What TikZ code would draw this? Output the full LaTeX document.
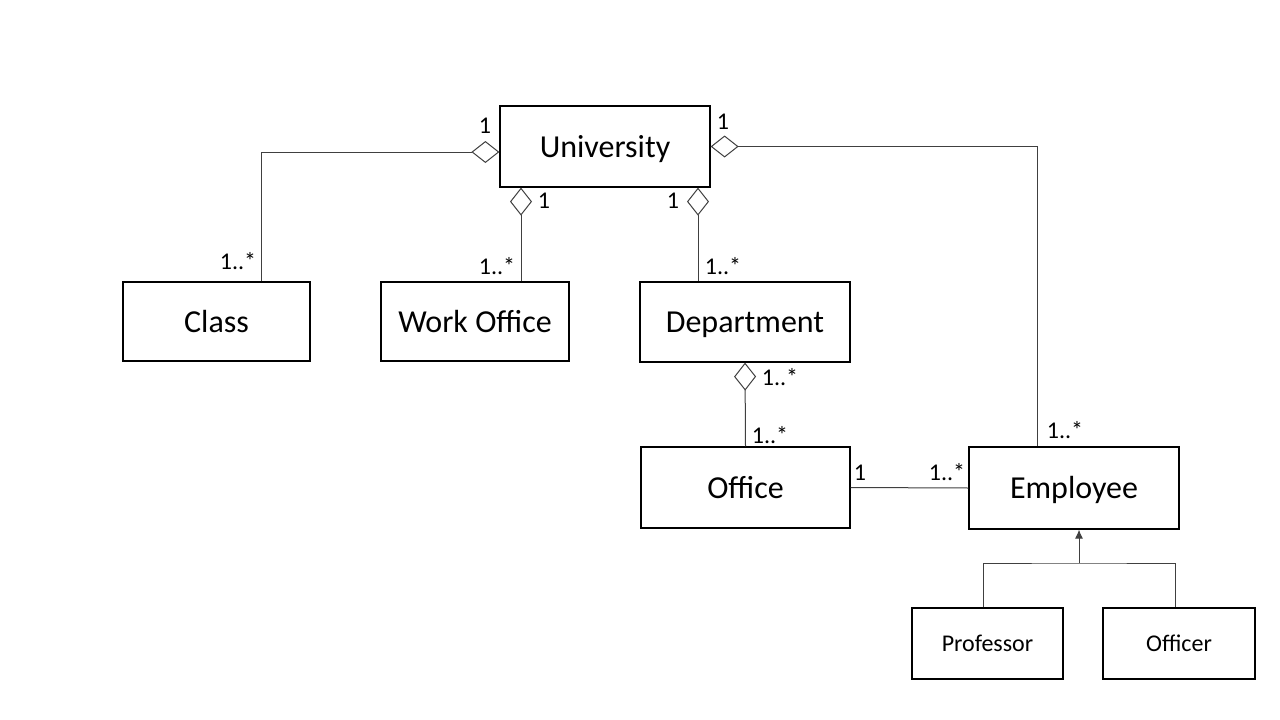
\documentclass[tikz,border=0pt]{standalone}
\usepackage{fontspec}
\setmainfont{Carlito}
\usepackage{tikz}
\usetikzlibrary{arrows.meta}

\tikzset{
    cls/.style={draw, line width=1.2pt, rectangle, inner sep=0pt,
        text height=24pt, text depth=3pt,
        font=\fontsize{32}{38}\selectfont},
    subcls/.style={cls, text height=18pt, text depth=2pt,
        font=\fontsize{24}{29}\selectfont},
    mult/.style={anchor=base, inner sep=0pt, font=\fontsize{24}{29}\selectfont},
    link/.style={draw=black!75, line width=1pt},
    agg/.style={link, -{Diamond[open,length=28pt,width=22pt,line width=1pt]}},
    isa/.style={link, -{Latex[length=9pt,width=8pt]}}
}

\begin{document}
\begin{tikzpicture}[x=1pt,y=-1pt]
        \useasboundingbox (0,0) rectangle (1280,720);

        % classes
        \node[cls, minimum width=210pt, minimum height=81pt] (univ) at (605,146.5) {University};
        \node[cls, minimum width=187pt, minimum height=79pt] (class) at (216.5,321.5) {Class};
        \node[cls, minimum width=188pt, minimum height=79pt] (workoffice) at (475,321.5) {Work Office};
        \node[cls, minimum width=210pt, minimum height=80pt] (dept) at (745,322) {Department};
        \node[cls, minimum width=209pt, minimum height=81pt] (office) at (745.5,487.5) {Office};
        \node[cls, minimum width=210pt, minimum height=82pt] (employee) at (1074,488) {Employee};
        \node[subcls, minimum width=151pt, minimum height=71pt] (professor) at (987.5,643.5) {Professor};
        \node[subcls, minimum width=152pt, minimum height=71pt] (officer) at (1179,643.5) {Officer};

        % attachment points
        \coordinate (cl) at ([xshift=44.5pt]class.north);
        \coordinate (wo) at ([xshift=46pt]workoffice.north);
        \coordinate (dp) at ([xshift=-47pt]dept.north);
        \coordinate (em) at ([xshift=-37pt]employee.north);
        \coordinate (split) at (1079,563);

        % aggregations
        \draw[agg] (cl) |- ([yshift=-5.5pt]univ.west);
        \draw[agg] (wo) -- (wo |- univ.south);
        \draw[agg] (dp) -- (dp |- univ.south);
        \draw[agg] (em) |- (univ.east);
        \draw[agg] (office.north) -- (dept.south);
        \draw[link] (office.east) -- (employee.west);

        % generalisation
        \draw[link] ([xshift=-4.5pt]professor.north) |- (split) -| ([xshift=-4pt]officer.north);
        \draw[isa] (split) -- (split |- employee.south);

        % multiplicities
        \node[mult] (m1) at (485,133) {1};
        \node[mult] (m2) at (238,269) {1..*};
        \node[mult] (m3) at (544,208) {1};
        \node[mult] (m4) at (497,274) {1..*};
        \node[mult] (m5) at (673,208) {1};
        \node[mult] (m6) at (723,274) {1..*};
        \node[mult] (m7) at (723,129) {1};
        \node[mult] (m8) at (1065,438) {1..*};
        \node[mult] (m9) at (780,385) {1..*};
        \node[mult] (m10) at (770,443) {1..*};
        \node[mult] (m11) at (860,480) {1};
        \node[mult] (m12) at (947,480) {1..*};
    \end{tikzpicture}
\end{document}
